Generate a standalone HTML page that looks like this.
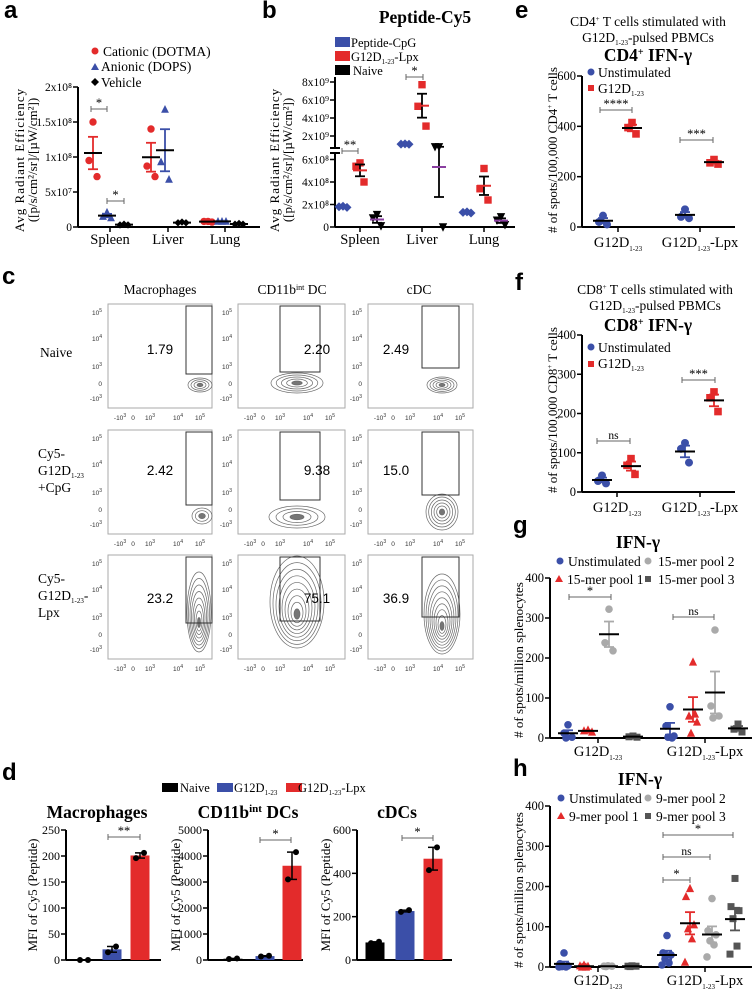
<!DOCTYPE html>
<html><head><meta charset="utf-8"><style>
html,body{margin:0;padding:0;background:#fff;}
svg{display:block;}
svg text{font-family:"Liberation Serif",serif;}
svg text.lt{font-family:"Liberation Sans",sans-serif;font-weight:bold;font-size:24px;}
.ttl{font-weight:bold;font-size:17.5px;}
svg text.fl{font-family:"Liberation Sans",sans-serif;font-size:6.5px;fill:#333;}
svg text.fn{font-family:"Liberation Sans",sans-serif;font-size:13.5px;}
</style></head><body>
<svg id="fig" width="754" height="994" viewBox="0 0 754 994" xmlns="http://www.w3.org/2000/svg" font-family="Liberation Serif, serif">
<text class="lt" x="4" y="18">a</text>
<text class="lt" x="262" y="18">b</text>
<text class="lt" x="2" y="284">c</text>
<text class="lt" x="2" y="780">d</text>
<text class="lt" x="515" y="18">e</text>
<text class="lt" x="515" y="290">f</text>
<text class="lt" x="513" y="533">g</text>
<text class="lt" x="513" y="776">h</text>

<g font-size="13.5">
<circle cx="95" cy="51" r="3.5" fill="#e32b2b"/><text x="103" y="56">Cationic (DOTMA)</text>
<polygon points="95,63 99,70 91,70" fill="#3b4fa8"/><text x="101" y="71">Anionic (DOPS)</text>
<polygon points="95,78 99,82 95,86 91,82" fill="#000"/><text x="101" y="87">Vehicle</text>
</g>
<g font-size="13">
<text transform="translate(24,160) rotate(-90)" text-anchor="middle" letter-spacing="1">Avg Radiant Efficiency</text>
<text transform="translate(37,160) rotate(-90)" text-anchor="middle">([p/s/cm²/sr]/[µW/cm²])</text>
</g>
<text class="ttl" x="425" y="23" text-anchor="middle">Peptide-Cy5</text>
<g font-size="12.5">
<rect x="335" y="37" width="15" height="10" fill="#3b4fa8"/><text x="351" y="47">Peptide-CpG</text>
<rect x="335" y="51" width="15" height="10" fill="#e32b2b"/><text x="351" y="61">G12D<tspan font-size="7" dy="3">1-23</tspan><tspan dy="-3">-Lpx</tspan></text>
<rect x="335" y="65" width="15" height="10" fill="#000"/><text x="353" y="75">Naive</text>
</g>
<g font-size="13">
<text transform="translate(279,160) rotate(-90)" text-anchor="middle" letter-spacing="1">Avg Radiant Efficiency</text>
<text transform="translate(292,160) rotate(-90)" text-anchor="middle">([p/s/cm²/sr]/[µW/cm²])</text>
</g>
<g>
<text x="648" y="26" text-anchor="middle" font-size="13.5">CD4<tspan font-size="7" dy="-5">+</tspan><tspan dy="5"> T cells stimulated with</tspan></text>
<text x="648" y="42" text-anchor="middle" font-size="13.5">G12D<tspan font-size="7" dy="3">1-23</tspan><tspan dy="-3">-pulsed PBMCs</tspan></text>
<text x="648" y="61" text-anchor="middle" class="ttl">CD4<tspan font-size="10" dy="-6">+</tspan><tspan dy="6"> IFN-γ</tspan></text>
</g>
<g font-size="13.5">
<circle cx="591" cy="72" r="3.5" fill="#3b4fa8"/><text x="598" y="77">Unstimulated</text>
<rect x="588" y="85" width="6" height="6" fill="#e32b2b"/><text x="598" y="93">G12D<tspan font-size="7" dy="3">1-23</tspan></text>
</g>
<text transform="translate(557,150) rotate(-90)" text-anchor="middle" font-size="13"># of spots/100,000 CD4<tspan font-size="7" dy="-5">+</tspan><tspan dy="5"> T cells</tspan></text>
<g>
<text x="655" y="294" text-anchor="middle" font-size="13.5">CD8<tspan font-size="7" dy="-5">+</tspan><tspan dy="5"> T cells stimulated with</tspan></text>
<text x="655" y="310" text-anchor="middle" font-size="13.5">G12D<tspan font-size="7" dy="3">1-23</tspan><tspan dy="-3">-pulsed PBMCs</tspan></text>
<text x="648" y="331" text-anchor="middle" class="ttl">CD8<tspan font-size="10" dy="-6">+</tspan><tspan dy="6"> IFN-γ</tspan></text>
</g>
<g font-size="13.5">
<circle cx="591" cy="347" r="3.5" fill="#3b4fa8"/><text x="598" y="352">Unstimulated</text>
<rect x="588" y="361" width="6" height="6" fill="#e32b2b"/><text x="598" y="368">G12D<tspan font-size="7" dy="3">1-23</tspan></text>
</g>
<text transform="translate(557,410) rotate(-90)" text-anchor="middle" font-size="13"># of spots/100,000 CD8<tspan font-size="7" dy="-5">+</tspan><tspan dy="5"> T cells</tspan></text>
<text class="ttl" x="638" y="548" text-anchor="middle">IFN-γ</text>
<g font-size="13.5">
<circle cx="560" cy="561" r="3.5" fill="#3b4fa8"/><text x="568" y="566">Unstimulated</text>
<circle cx="648" cy="561" r="3.5" fill="#aaa"/><text x="658" y="566">15-mer pool 2</text>
<polygon points="559,575 563,582 555,582" fill="#e32b2b"/><text x="567" y="584">15-mer pool 1</text>
<rect x="645" y="576" width="6" height="6" fill="#555"/><text x="658" y="584">15-mer pool 3</text>
</g>
<text transform="translate(523,660) rotate(-90)" text-anchor="middle" font-size="13"># of spots/million splenocytes</text>
<text class="ttl" x="640" y="785" text-anchor="middle">IFN-γ</text>
<g font-size="13.5">
<circle cx="561" cy="798" r="3.5" fill="#3b4fa8"/><text x="569" y="803">Unstimulated</text>
<circle cx="648" cy="798" r="3.5" fill="#aaa"/><text x="656" y="803">9-mer pool 2</text>
<polygon points="561,812 565,819 557,819" fill="#e32b2b"/><text x="569" y="821">9-mer pool 1</text>
<rect x="645" y="813" width="6" height="6" fill="#555"/><text x="656" y="821">9-mer pool 3</text>
</g>
<text transform="translate(523,890) rotate(-90)" text-anchor="middle" font-size="13"># of spots/million splenocytes</text>
<g font-size="13.5">
<text x="160" y="294" text-anchor="middle">Macrophages</text>
<text x="292" y="294" text-anchor="middle">CD11b<tspan font-size="8" dy="-4">int</tspan><tspan dy="4"> DC</tspan></text>
<text x="419" y="294" text-anchor="middle">cDC</text>
</g>
<g font-size="13.5">
<text x="40" y="357">Naive</text>
<text x="38" y="458">Cy5-</text>
<text x="38" y="475">G12D<tspan font-size="7" dy="3">1-23</tspan></text>
<text x="38" y="492">+CpG</text>
<text x="38" y="583">Cy5-</text>
<text x="38" y="600">G12D<tspan font-size="7" dy="3">1-23</tspan><tspan dy="-3">-</tspan></text>
<text x="38" y="617">Lpx</text>
</g>
<g font-size="12.5">
<rect x="162" y="783" width="16" height="9" fill="#000"/><text x="180" y="792">Naive</text>
<rect x="217" y="783" width="16" height="9" fill="#3b4fa8"/><text x="234" y="792">G12D<tspan font-size="7" dy="3">1-23</tspan></text>
<rect x="286" y="783" width="16" height="9" fill="#e32b2b"/><text x="298" y="792">G12D<tspan font-size="7" dy="3">1-23</tspan><tspan dy="-3">-Lpx</tspan></text>
</g>
<g class="ttl">
<text x="97" y="818" text-anchor="middle" class="ttl">Macrophages</text>
<text x="248" y="818" text-anchor="middle" class="ttl">CD11b<tspan font-size="11" dy="-6">int</tspan><tspan dy="6"> DCs</tspan></text>
<text x="397" y="818" text-anchor="middle" class="ttl">cDCs</text>
</g>
<g font-size="13">
<text transform="translate(37,895) rotate(-90)" text-anchor="middle">MFI of Cy5 (Peptide)</text>
<text transform="translate(180,895) rotate(-90)" text-anchor="middle">MFI of Cy5 (Peptide)</text>
<text transform="translate(330,895) rotate(-90)" text-anchor="middle">MFI of Cy5 (Peptide)</text>
</g>
<g id="marks"></g>
</svg>
<script>
// ---------- DATA ----------
const aCats = ["Spleen","Liver","Lung"];
const aTicks = [0,5e7,1e8,1.5e8,2e8];
const aTickLabels = ["0","5x10⁷","1x10⁸","1.5x10⁸","2x10⁸"];
const aCationic = [[1.5e8,0.95e8,0.72e8],[1.4e8,0.87e8,0.72e8],[0.08e8,0.08e8,0.07e8]];
const aAnionic = [[0.21e8,0.15e8,0.13e8],[1.68e8,0.93e8,0.68e8],[0.08e8,0.08e8,0.08e8]];
const aVehicle = [[0.04e8,0.03e8,0.03e8],[0.07e8,0.06e8,0.06e8],[0.05e8,0.04e8,0.04e8]];

const bCats = ["Spleen","Liver","Lung"];
const bTicks = [0,2e8,4e8,6e8,2e9,4e9,6e9,8e9];
const bTickLabels = ["0","2x10⁸","4x10⁸","6x10⁸","2x10⁹","4x10⁹","6x10⁹","8x10⁹"];
const bCpG = [[1.85e8,1.8e8,1.75e8],[1.12e9,1.1e9,1.08e9],[1.35e8,1.3e8,1.25e8]];
const bLpx = [[5.7e8,5.4e8,4.0e8],[7.7e9,5.3e9,3.1e9],[5.2e8,3.4e8,2.4e8]];
const bNaive = [[1.1e8,0.8e8,0.1e8],[0.8e9,0.8e9,0.0e8],[0.9e8,0.6e8,0.2e8]];

const eCats = ["G12D1-23","G12D1-23-Lpx"];
const eTicks = [0,200,400,600];
const eUnstim = [[45,20,10],[70,40,35]];
const eG12D = [[415,395,370],[268,255,250]];

const fTicks = [0,100,200,300,400];
const fUnstim = [[42,28,22],[125,110,75]];
const fG12D = [[85,68,45],[255,240,205]];

const gTicks = [0,100,200,300,400];
const gUnstim = [[33,12,2,0],[78,30,5,2,0]];
const gPool1 = [[20,18,15],[190,55,40,12,60]];
const gPool2 = [[322,238,218],[270,80,55,50]];
const gPool3 = [[5,3,2],[35,22,15]];

const hTicks = [0,100,200,300,400];
const hUnstim = [[35,8,3,1,0,0],[78,35,30,20,10,5]];
const hPool1 = [[5,3,2,0,0],[195,175,105,95,70,12]];
const hPool2 = [[3,2,2,1],[170,90,80,65,55,25]];
const hPool3 = [[3,2,2,1],[220,150,140,120,52,32]];

const dGroups = ["Naive","G12D1-23","G12D1-23-Lpx"];
const dMac = [[0,0],[15,26],[196,206]];
const dMacTicks = [0,50,100,150,200,250];
const dCD11 = [[40,60],[135,165],[3100,4150]];
const dCD11Ticks = [0,1000,2000,3000,4000,5000];
const dCdc = [[78,84],[222,230],[415,520]];
const dCdcTicks = [0,200,400,600];

const flowPct = [["1.79","2.20","2.49"],["2.42","9.38","15.0"],["23.2","75.1","36.9"]];

// ---------- HELPERS ----------
const NS="http://www.w3.org/2000/svg";
const root=document.getElementById('marks');
function mk(tag,attrs,parent){const e=document.createElementNS(NS,tag);for(const k in attrs)e.setAttribute(k,attrs[k]);(parent||root).appendChild(e);return e;}
function mean(a){return a.reduce((s,v)=>s+v,0)/a.length;}
function sem(a){const m=mean(a);if(a.length<2)return 0;const v=a.reduce((s,x)=>s+(x-m)*(x-m),0)/(a.length-1);return Math.sqrt(v/a.length);}
const JIT=[0,-4,4,-2,2,-5];
function marker(shape,x,y,col,r,name){
  let e;
  if(shape==='circle') e=mk('circle',{cx:x,cy:y,r:r,fill:col});
  else if(shape==='square') e=mk('rect',{x:x-r,y:y-r,width:2*r,height:2*r,fill:col});
  else if(shape==='tri') e=mk('polygon',{points:`${x},${y-r-1} ${x+r+0.5},${y+r} ${x-r-0.5},${y+r}`,fill:col});
  else if(shape==='itri') e=mk('polygon',{points:`${x},${y+r+1} ${x+r+0.5},${y-r} ${x-r-0.5},${y-r}`,fill:col});
  else e=mk('polygon',{points:`${x},${y-r} ${x+r},${y} ${x},${y+r} ${x-r},${y}`,fill:col});
  
  
}
function yAxis(x,y0,y1,ticks,labels,scale,name,fs){
  const g=mk('g',{});
  
  
  mk('line',{x1:x,y1:y0,x2:x,y2:y1,stroke:'#000','stroke-width':2},g);
  ticks.forEach((t,i)=>{const y=scale(t);
    mk('line',{x1:x-5,y1:y,x2:x,y2:y,stroke:'#000','stroke-width':1.5},g);
    const tx=mk('text',{x:x-6,y:y+4,'text-anchor':'end','font-size':fs||12},g);tx.textContent=labels[i];});
  return g;
}
function xAxis(x0,x1,y,catXs,name){
  const g=mk('g',{});
  
  
  mk('line',{x1:x0,y1:y,x2:x1,y2:y,stroke:'#000','stroke-width':2},g);
  catXs.forEach(cx=>mk('line',{x1:cx,y1:y,x2:cx,y2:y+5,stroke:'#000','stroke-width':1.5},g));
}
function catLabel(x,y,txt,name,fs){
  const t=mk('text',{x:x,y:y,'text-anchor':'middle','font-size':fs||14.5});
  
  
  if(txt.indexOf('1-23')>=0){const parts=txt.split('1-23');
    t.appendChild(document.createTextNode(parts[0]));
    const s=mk('tspan',{'font-size':7,dy:4},t);s.textContent='1-23';
    if(parts[1]){const s2=mk('tspan',{dy:-4},t);s2.textContent=parts[1];}
  } else t.textContent=txt;
}
function series(groups,xs,scale,shape,col,meanCol,errCol,name,r,mw){
  groups.forEach((pts,gi)=>{
    const x=xs[gi];
    pts.forEach((v,i)=>marker(shape,x+JIT[i%JIT.length],scale(v),col,r||3.5,name+'-point'));
    const m=mean(pts),s=sem(pts);
    const ey1=scale(m+s),ey2=scale(m-s),my=scale(m);
    const g=mk('g',{});
    
    
    mk('line',{x1:x,y1:ey1,x2:x,y2:ey2,stroke:errCol,'stroke-width':1.8},g);
    mk('line',{x1:x-5,y1:ey1,x2:x+5,y2:ey1,stroke:errCol,'stroke-width':1.8},g);
    mk('line',{x1:x-5,y1:ey2,x2:x+5,y2:ey2,stroke:errCol,'stroke-width':1.8},g);
    const w=mw||10;
    mk('line',{x1:x-w,y1:my,x2:x+w,y2:my,stroke:meanCol,'stroke-width':2},g);
  });
}
function bracket(x1,x2,y,label,name){
  const g=mk('g',{});
  
  
  mk('line',{x1:x1,y1:y,x2:x2,y2:y,stroke:'#666','stroke-width':1},g);
  mk('line',{x1:x1,y1:y-3,x2:x1,y2:y+3,stroke:'#666','stroke-width':1},g);
  mk('line',{x1:x2,y1:y-3,x2:x2,y2:y+3,stroke:'#666','stroke-width':1},g);
  const t=mk('text',{x:(x1+x2)/2,y:y-2,'text-anchor':'middle','font-size':label==='ns'?11.5:12.5},g);t.textContent=label;
}
const RED='#e32b2b',BLUE='#3b4fa8',LG='#aaa',DG='#555';

// ---------- PANEL A ----------
{
 const ya=v=>227-v/5e7*35;
 const cx=[110,168,225];
 yAxis(78,87,227,aTicks,aTickLabels,ya,'panel-a-y-axis',11.5);
 xAxis(78,260,227,cx,'panel-a-x-axis');
 aCats.forEach((c,i)=>catLabel(cx[i],244,c,'panel-a-x-label'));
 series(aCationic,cx.map(x=>x-17),ya,'circle',RED,'#000',RED,'cationic',3.7,9);
 series(aAnionic,cx.map(x=>x-3),ya,'tri',BLUE,'#000',BLUE,'anionic',3.4,9);
 series(aVehicle,cx.map(x=>x+14),ya,'diamond','#000','#000','#000','vehicle',3.7,9);
 bracket(91,107,109,'*','panel-a-sig-1');
 bracket(107,124,201,'*','panel-a-sig-2');
}
// ---------- PANEL B ----------
{
 const yb=v=>v<=7e8?227-v/2e8*22.5:154-v/1e9*9;
 const cx=[360,422,484];
 const g=yAxis(335,77,227,bTicks,bTickLabels,yb,'panel-b-y-axis',11.5);
 mk('rect',{x:330,y:148,width:10,height:5,fill:'#fff'},g);
 mk('line',{x1:330,y1:148,x2:340,y2:148,stroke:'#000','stroke-width':2},g);
 mk('line',{x1:330,y1:153,x2:340,y2:153,stroke:'#000','stroke-width':2},g);
 xAxis(335,515,227,cx,'panel-b-x-axis');
 bCats.forEach((c,i)=>catLabel(cx[i],244,c,'panel-b-x-label'));
 series(bCpG,cx.map(x=>x-17),yb,'diamond',BLUE,BLUE,BLUE,'peptide-cpg',4.5,6);
 series(bLpx,cx,yb,'square',RED,RED,'#000','g12d-lpx',3.7,7);
 series(bNaive,cx.map(x=>x+17),yb,'itri','#000','#8a3fa0','#000','naive',3.7,7);
 bracket(342,358,151,'**','panel-b-sig-1');
 bracket(406,423,77,'*','panel-b-sig-2');
}
// ---------- PANEL E ----------
{
 const ye=v=>227-v*(151/600);
 const cx=[618,700];
 yAxis(582,76,227,eTicks,eTicks.map(String),ye,'panel-e-y-axis',12.5);
 xAxis(582,735,227,cx,'panel-e-x-axis');
 eCats.forEach((c,i)=>catLabel(cx[i],247,c,'panel-e-x-label'));
 series(eUnstim,cx.map(x=>x-15),ye,'circle',BLUE,'#000',BLUE,'e-unstimulated',4,10);
 series(eG12D,cx.map(x=>x+14),ye,'square',RED,'#000',RED,'e-g12d',3.8,10);
 bracket(600,632,110,'****','panel-e-sig-1');
 bracket(680,713,140,'***','panel-e-sig-2');
}
// ---------- PANEL F ----------
{
 const yf=v=>492-v*(157/400);
 const cx=[617,700];
 yAxis(582,335,492,fTicks,fTicks.map(String),yf,'panel-f-y-axis',12.5);
 xAxis(582,735,492,cx,'panel-f-x-axis');
 eCats.forEach((c,i)=>catLabel(cx[i],512,c,'panel-f-x-label'));
 series(fUnstim,cx.map(x=>x-15),yf,'circle',BLUE,'#000',BLUE,'f-unstimulated',4,10);
 series(fG12D,cx.map(x=>x+14),yf,'square',RED,'#000',RED,'f-g12d',3.8,10);
 bracket(597,630,441,'ns','panel-f-sig-1');
 bracket(682,715,380,'***','panel-f-sig-2');
}
// ---------- PANEL G ----------
{
 const yg=v=>738-v*(160/400);
 const cx=[598,705];
 yAxis(550,578,738,gTicks,gTicks.map(String),yg,'panel-g-y-axis',12.5);
 xAxis(550,752,738,cx,'panel-g-x-axis');
 eCats.forEach((c,i)=>catLabel(cx[i],756,c,'panel-g-x-label'));
 const off=[[568,670],[588,693],[609,715],[633,738]];
 series(gUnstim,off[0],yg,'circle',BLUE,'#000',BLUE,'g-unstimulated',3.8,10);
 series(gPool1,off[1],yg,'tri',RED,'#000',RED,'g-pool1',3.6,10);
 series(gPool2,off[2],yg,'circle',LG,'#000',LG,'g-pool2',3.8,10);
 series(gPool3,off[3],yg,'square',DG,'#000',DG,'g-pool3',3.5,10);
 bracket(569,611,597,'*','panel-g-sig-1');
 bracket(673,714,617,'ns','panel-g-sig-2');
}
// ---------- PANEL H ----------
{
 const yh=v=>967-v*(161/400);
 const cx=[598,705];
 yAxis(550,806,967,hTicks,hTicks.map(String),yh,'panel-h-y-axis',12.5);
 xAxis(550,752,967,cx,'panel-h-x-axis');
 eCats.forEach((c,i)=>catLabel(cx[i],985,c,'panel-h-x-label'));
 const off=[[564,667],[584,690],[608,712],[632,735]];
 series(hUnstim,off[0],yh,'circle',BLUE,'#000',BLUE,'h-unstimulated',3.8,10);
 series(hPool1,off[1],yh,'tri',RED,'#000',RED,'h-pool1',3.6,10);
 series(hPool2,off[2],yh,'circle',LG,'#000',LG,'h-pool2',3.8,10);
 series(hPool3,off[3],yh,'square',DG,'#000',DG,'h-pool3',3.5,10);
 bracket(663,733,835,'*','panel-h-sig-1');
 bracket(663,710,857,'ns','panel-h-sig-2');
 bracket(663,690,880,'*','panel-h-sig-3');
}
// ---------- PANEL D ----------
function barPanel(ax,data,ticks,maxV,xs,name,br){
 const yd=v=>960-v*(130/maxV);
 yAxis(ax,830,960,ticks,ticks.map(String),yd,name+'-y-axis',12);
 xAxis(ax,ax+95,960,[],name+'-x-axis');
 const cols=['#000',BLUE,RED];
 data.forEach((pts,i)=>{
  const m=mean(pts),x=xs[i];
  const b=mk('rect',{x:x-9.5,y:yd(m),width:19,height:960-yd(m),fill:cols[i]});
  
  
  const lo=Math.min(...pts),hi=Math.max(...pts);
  const g=mk('g',{});
  
  
  mk('line',{x1:x,y1:yd(hi),x2:x,y2:yd(lo),stroke:'#000','stroke-width':1.5},g);
  mk('line',{x1:x-5,y1:yd(hi),x2:x+5,y2:yd(hi),stroke:'#000','stroke-width':1.5},g);
  mk('line',{x1:x-5,y1:yd(lo),x2:x+5,y2:yd(lo),stroke:'#000','stroke-width':1.5},g);
  pts.forEach((v,j)=>marker('circle',x+(j?4:-4),yd(v),'#000',3,name+'-point'));
 });
 bracket(br[0],br[1],br[2],br[3],name+'-sig');
}
barPanel(66,dMac,dMacTicks,250,[84,112,140],'panel-d-macrophages',[108,140,837,'**']);
barPanel(208,dCD11,dCD11Ticks,5000,[233,265,292],'panel-d-cd11b',[260,291,840,'*']);
barPanel(357,dCdc,dCdcTicks,600,[375,405,433],'panel-d-cdc',[402,433,838,'*']);

// ---------- PANEL C (flow) ----------
{
 const colX=[[108,212],[238,345],[368,473]];
 const rowY=[304,430,555];const H=104;
 const gates=[[[186,212,306,374],[280,320,306,372],[422,459,306,368]],
              [[186,212,432,505],[280,320,432,500],[422,459,432,495]],
              [[186,212,557,623],[280,320,557,621],[422,459,557,617]]];
 const blobs=[[[200,385,12,7,4],[297,383,26,10,5],[442,385,15,8,5]],
              [[202,516,10,8,3],[297,517,28,11,4],[442,512,16,18,6]],
              [[199,612,12,40,8],[297,602,27,46,9],[442,614,18,40,9]]];
 rowY.forEach((ry,r)=>{colX.forEach((cx,c)=>{
  const g=mk('g',{});
  
  
  mk('rect',{x:cx[0],y:ry,width:cx[1]-cx[0],height:H,fill:'#fff',stroke:'#aaa','stroke-width':1},g);
  const b=blobs[r][c];
  for(let k=b[4];k>=1;k--){
   mk('ellipse',{cx:b[0],cy:b[1]+(r==2?(b[4]-k)*1.5:0),rx:b[2]*k/b[4],ry:b[3]*k/b[4],fill:k==1?'#555':'none',stroke:'#444','stroke-width':0.7,opacity:0.8},g);
  }
  const gt=gates[r][c];
  mk('rect',{x:gt[0],y:gt[2],width:gt[1]-gt[0],height:gt[3]-gt[2],fill:'none',stroke:'#333','stroke-width':1},g);
  const nt=mk('text',{x:[160,317,396][c],y:ry+(r==0?50:r==1?45:48),'text-anchor':'middle',class:'fn'},g);
  nt.textContent=flowPct[r][c];
  const yl=[["10","5",11],["10","4",37],["10","3",65],["0","",82],["-10","3",97]];
  yl.forEach(l=>{const t=mk('text',{x:cx[0]-6,y:ry+l[2],'text-anchor':'end',class:'fl'},g);t.textContent=l[0];
    if(l[1]){const s=mk('tspan',{dy:-3,'font-size':5},t);s.textContent=l[1];}});
  const xl=[["-10","3",12],["0","",25],["10","3",42],["10","4",70],["10","5",92]];
  xl.forEach(l=>{const t=mk('text',{x:cx[0]+l[2],y:ry+H+12,'text-anchor':'middle',class:'fl'},g);t.textContent=l[0];
    if(l[1]){const s=mk('tspan',{dy:-3,'font-size':5},t);s.textContent=l[1];}});
 });});
}
</script>
</body></html>
